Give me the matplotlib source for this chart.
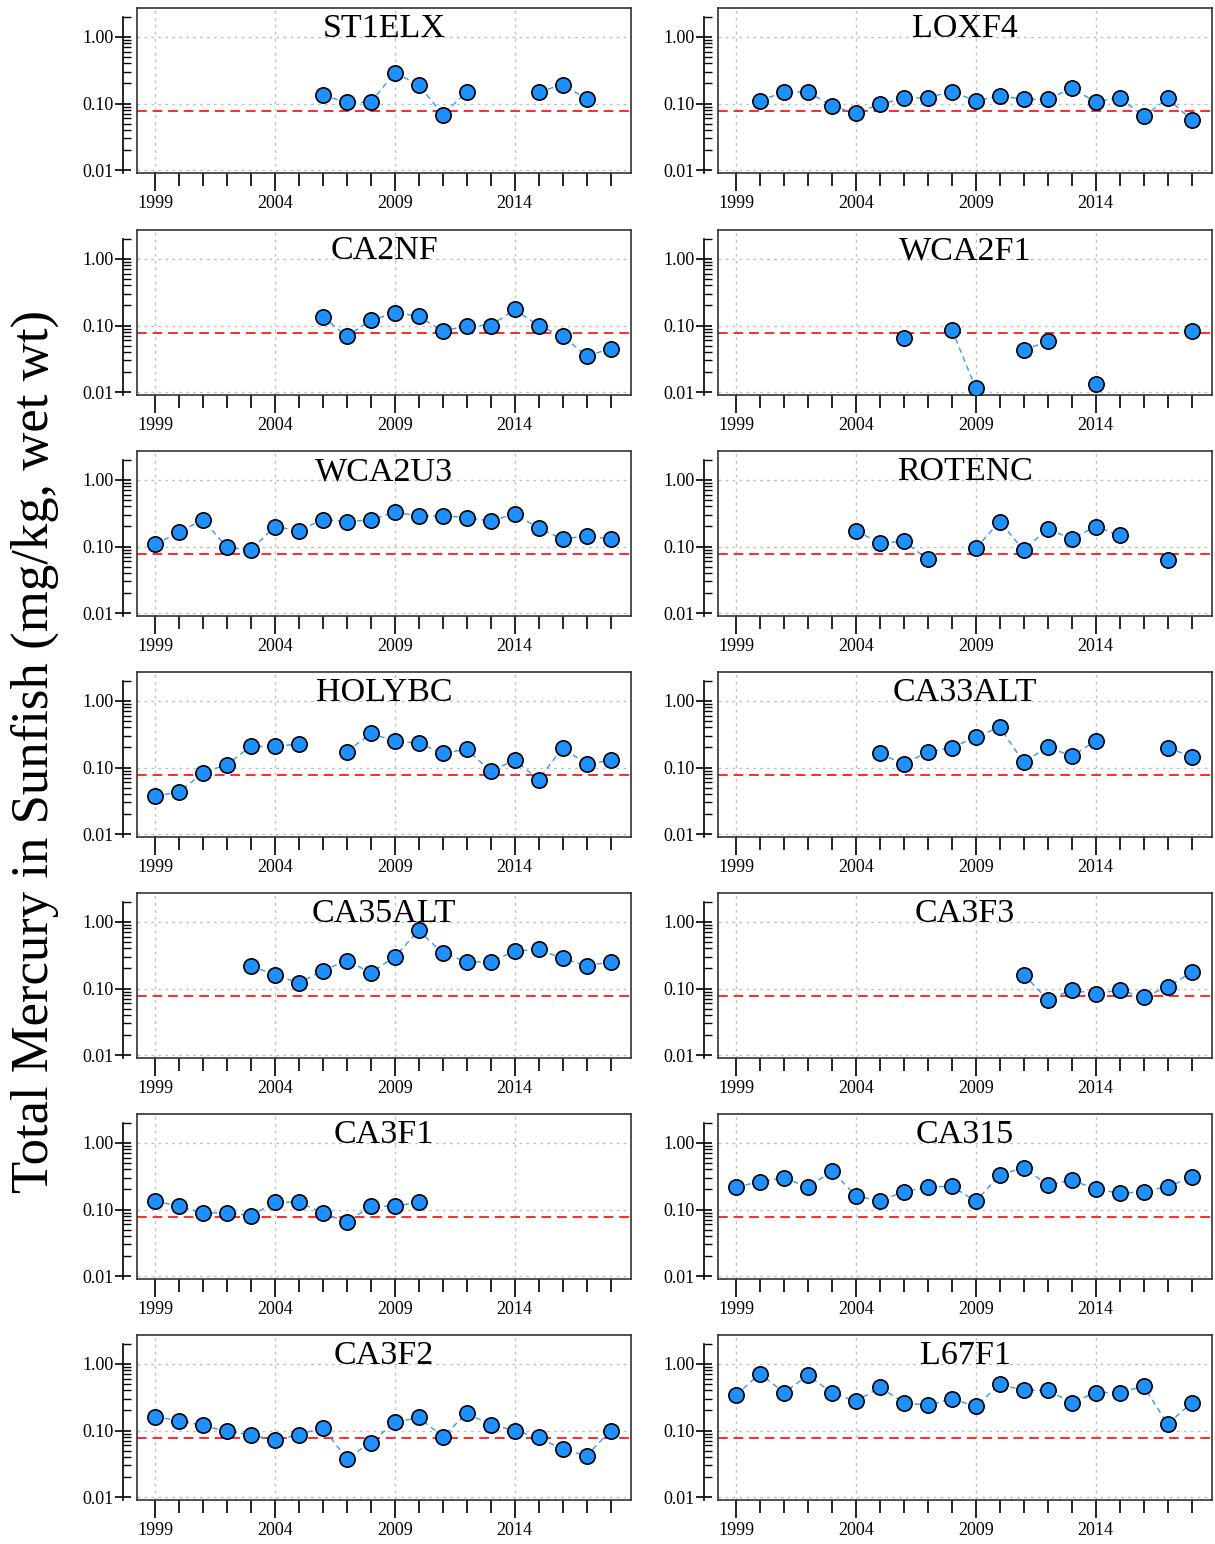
import numpy as np
import matplotlib
matplotlib.use('Agg')
import matplotlib.pyplot as plt
from matplotlib.ticker import FixedLocator, LogLocator, NullFormatter, FixedFormatter

nan = np.nan
years = list(range(1999, 2019))
threshold = 0.077

# yearly mean total mercury in sunfish (mg/kg wet wt), nan = not sampled
st1elx = [nan]*7 + [0.133, 0.104, 0.104, 0.29, 0.19, 0.068, 0.149, nan, nan, 0.149, 0.192, 0.117, nan]
loxf4 = [nan, 0.110, 0.149, 0.149, 0.092, 0.071, 0.098, 0.119, 0.123, 0.151, 0.110, 0.130,
         0.116, 0.116, 0.169, 0.106, 0.123, 0.064, 0.119, 0.057]
ca2nf = [nan]*7 + [0.135, 0.069, 0.120, 0.155, 0.138, 0.082, 0.100, 0.100, 0.174, 0.100, 0.069, 0.035, 0.045]
wca2f1 = [nan]*7 + [0.064, nan, 0.087, 0.0115, nan, 0.043, 0.058, nan, 0.0135, nan, nan, nan, 0.082]
wca2u3 = [0.108, 0.163, 0.254, 0.097, 0.089, 0.199, 0.173, 0.254, 0.237, 0.25, 0.328, 0.286,
          0.29, 0.272, 0.24, 0.31, 0.188, 0.129, 0.145, 0.129]
rotenc = [nan]*5 + [0.173, 0.112, 0.120, 0.064, nan, 0.094, 0.237, 0.088, 0.185, 0.130, 0.199, 0.147, nan, 0.062, nan]
holybc = [0.0376, 0.0427, 0.083, 0.111, 0.208, 0.208, 0.224, nan, 0.173, 0.324, 0.248, 0.232,
          0.163, 0.188, 0.088, 0.129, 0.066, 0.199, 0.112, 0.129]
ca33alt = [nan]*6 + [0.163, 0.112, 0.173, 0.199, 0.286, 0.405, 0.119, 0.206, 0.147, 0.251, nan, nan, 0.199, 0.145]
ca35alt = [nan]*4 + [0.216, 0.162, 0.120, 0.186, 0.263, 0.172, 0.299, 0.741, 0.339, 0.251, 0.251,
                     0.363, 0.385, 0.282, 0.219, 0.251]
ca3f3 = [nan]*12 + [0.162, 0.068, 0.095, 0.083, 0.095, 0.074, 0.106, 0.174]
ca3f1 = [0.135, 0.112, 0.089, 0.089, 0.081, 0.129, 0.129, 0.089, 0.065, 0.112, 0.112, 0.129] + [nan]*8
ca315 = [0.216, 0.263, 0.299, 0.216, 0.376, 0.162, 0.133, 0.186, 0.216, 0.224, 0.133, 0.331,
         0.422, 0.234, 0.275, 0.204, 0.174, 0.186, 0.221, 0.302]
ca3f2 = [0.16, 0.141, 0.119, 0.097, 0.087, 0.071, 0.087, 0.11, 0.038, 0.066, 0.132, 0.157,
         0.081, 0.18, 0.123, 0.10, 0.079, 0.052, 0.042, 0.10]
l67f1 = [0.34, 0.71, 0.37, 0.67, 0.37, 0.273, 0.443, 0.263, 0.238, 0.30, 0.23, 0.49,
         0.40, 0.40, 0.263, 0.37, 0.37, 0.46, 0.125, 0.26]

left_sites = [('ST1ELX', st1elx), ('CA2NF', ca2nf), ('WCA2U3', wca2u3), ('HOLYBC', holybc),
              ('CA35ALT', ca35alt), ('CA3F1', ca3f1), ('CA3F2', ca3f2)]
right_sites = [('LOXF4', loxf4), ('WCA2F1', wca2f1), ('ROTENC', rotenc), ('CA33ALT', ca33alt),
               ('CA3F3', ca3f3), ('CA315', ca315), ('L67F1', l67f1)]

plt.rcParams['font.family'] = 'Liberation Serif'

W, H = 1215, 1544
fig = plt.figure(figsize=(W/100., H/100.), dpi=100)

row_tops = [8, 230, 451, 672, 893, 1114, 1335]
box_h = 165
col_lefts = [137, 718]
box_w = 494

def panel(left_px, top_px, name, values):
    ax = fig.add_axes([left_px/W, 1 - (top_px + box_h)/H, box_w/W, box_h/H])
    y = np.array(values, dtype=float)
    ax.plot(years, y, color='#3399FF', lw=1.0, dashes=(4, 3), zorder=3)
    ax.plot(years, y, ls='none', marker='o', ms=11, mfc='#1E90FF', mec='black', mew=1.2, zorder=4)
    ax.axhline(threshold, color='#FF2A2A', lw=1.4, dashes=(5, 3), zorder=2)

    ax.set_yscale('log')
    ax.set_ylim(0.0091, 2.7)
    ax.set_xlim(1998.25, 2018.85)

    ax.xaxis.set_major_locator(FixedLocator([1999, 2004, 2009, 2014]))
    ax.xaxis.set_minor_locator(FixedLocator(years))
    ax.yaxis.set_major_locator(FixedLocator([0.01, 0.1, 1.0]))
    ax.yaxis.set_major_formatter(FixedFormatter(['0.01', '0.10', '1.00']))
    ax.yaxis.set_minor_locator(LogLocator(base=10, subs=np.arange(2, 10), numticks=10))
    ax.yaxis.set_minor_formatter(NullFormatter())

    ax.grid(True, which='major', color='#c0c0c0', ls=(0, (2, 3)), lw=1.0, zorder=0)

    # y axis sits a little left of the frame
    ax.spines['left'].set_position(('outward', 10))
    ax.spines['left'].set_bounds(0.0091, 2.0)
    ax.spines['left'].set_linewidth(1.2)
    ax.plot([0, 0], [0, 1], transform=ax.transAxes, color='#333333', lw=1.2, clip_on=False, zorder=5)
    for s in ['top', 'right', 'bottom']:
        ax.spines[s].set_color('#333333')
        ax.spines[s].set_linewidth(1.2)

    ax.tick_params(axis='y', which='major', direction='inout', length=12, width=1.2, labelsize=13, pad=1)
    ax.tick_params(axis='y', which='minor', direction='in', length=6, width=1.0)
    ax.tick_params(axis='x', which='major', direction='out', length=13, width=1.2, labelsize=13, pad=3)
    ax.tick_params(axis='x', which='minor', direction='out', length=9, width=1.2)

    ax.text(0.5, 0.965, name, transform=ax.transAxes, ha='center', va='top', fontsize=24.5, zorder=6)
    return ax

for r, (name, vals) in enumerate(left_sites):
    panel(col_lefts[0], row_tops[r], name, vals)
for r, (name, vals) in enumerate(right_sites):
    panel(col_lefts[1], row_tops[r], name, vals)

fig.text(0.029, 0.513, 'Total Mercury in Sunfish (mg/kg, wet wt)', rotation=90,
         ha='center', va='center', fontsize=38)

fig.savefig('out.png', dpi=100)
